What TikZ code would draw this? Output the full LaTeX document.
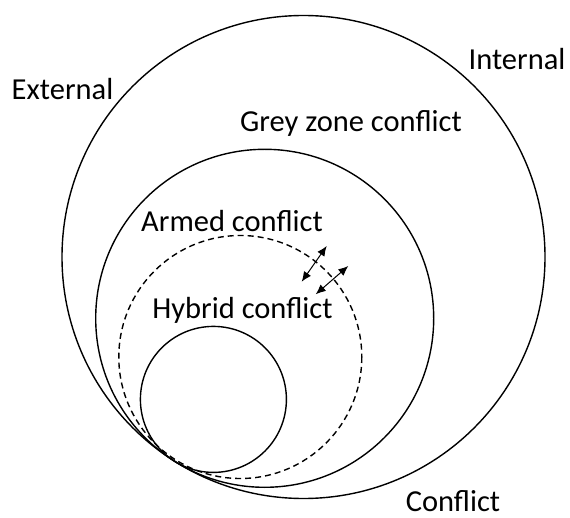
\documentclass[tikz,border=0pt]{standalone}
\usepackage{fontspec}
\setmainfont{Carlito}
\usetikzlibrary{arrows.meta}
\tikzset{
  ring/.style={draw=black, line width=1.4pt},
  dashring/.style={draw=black, line width=1.4pt, dash pattern=on 6pt off 4pt},
  lbl/.style={font=\fontsize{30.5}{32}\selectfont, inner sep=0pt, anchor=base},
  twoway/.style={line width=1pt, {Latex[length=10pt,width=8.5pt]}-{Latex[length=10pt,width=8.5pt]}}
}
\begin{document}
\begin{tikzpicture}[x=1pt,y=-1pt]
\useasboundingbox (0,0) rectangle (570,518);
% circles, all tangent at the lower left
\draw[ring] (303.5,257) circle[radius=241.5];
\draw[ring] (264.7,318.3) circle[radius=169];
\draw[dashring] (240.3,357) circle[radius=121.5];
\draw[ring] (213.4,399.4) circle[radius=73];
% labels
\node[lbl] (external) at (62.5,100) {External};
\node[lbl] (internal) at (517,70) {Internal};
\node[lbl] (grey) at (351,132) {Grey zone conflict};
\node[lbl] (armed) at (232,232) {Armed conflict};
\node[lbl] (hybrid) at (242.5,319) {Hybrid conflict};
\node[lbl] (conflict) at (453,511) {Conflict};
% arrows across the dashed boundary
\coordinate (a1s) at (301.7,281.7);
\coordinate (a1e) at (326.7,246);
\coordinate (a2s) at (315.7,294.3);
\coordinate (a2e) at (348.3,266);
\draw[twoway] (a1s) -- (a1e);
\draw[twoway] (a2s) -- (a2e);
\end{tikzpicture}
\end{document}
